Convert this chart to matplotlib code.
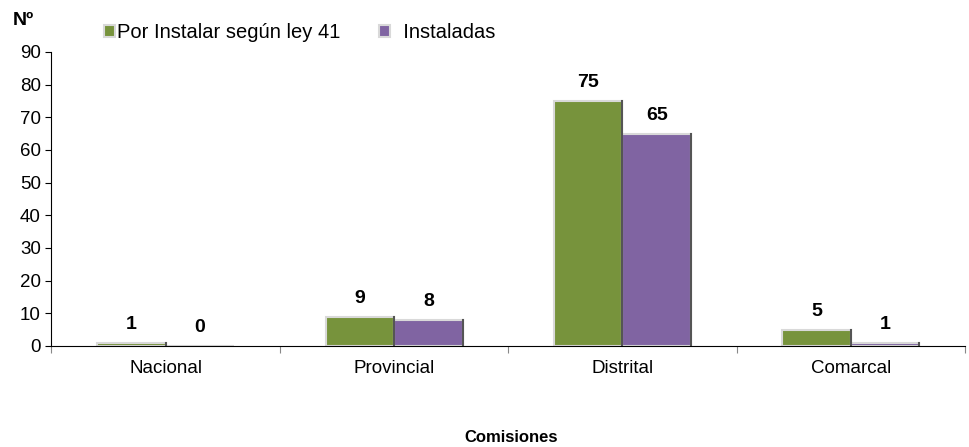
import numpy as np
import matplotlib.pyplot as plt
from matplotlib.ticker import FixedLocator, NullFormatter

plt.rcParams['font.family'] = ['Liberation Sans', 'DejaVu Sans']

categories = ['Nacional', 'Provincial', 'Distrital', 'Comarcal']
por_instalar = [1, 9, 75, 5]
instaladas = [0, 8, 65, 1]
series_names = ['Por Instalar según ley 41', '  Instaladas']

GREEN = '#77933C'
PURPLE = '#8064A2'

fig = plt.figure(figsize=(9.7, 4.47), dpi=100)
ax = fig.add_axes([0.053, 0.226, 0.942, 0.658])

x = np.arange(len(categories))
width = 0.3

b1 = ax.bar(x - width / 2, por_instalar, width, color=GREEN,
            edgecolor='#d9d9d9', linewidth=1.5, label=series_names[0])
b2 = ax.bar(x + width / 2, instaladas, width, color=PURPLE,
            edgecolor='#d9d9d9', linewidth=1.5, label=series_names[1])

# darker right edge to fake the bevel shadow
for bars in (b1, b2):
    for rect in bars:
        h = rect.get_height()
        if h > 0:
            ax.plot([rect.get_x() + rect.get_width()] * 2, [0, h],
                    color='#555555', lw=1.5, zorder=3)

for bars, vals in ((b1, por_instalar), (b2, instaladas)):
    for rect, v in zip(bars, vals):
        ax.text(rect.get_x() + rect.get_width() / 2, v + 3, str(v),
                ha='center', va='bottom', fontsize=14, fontweight='bold')

ax.set_xlim(-0.5, len(categories) - 0.5)
ax.set_ylim(0, 90)
ax.set_yticks(np.arange(0, 91, 10))
ax.tick_params(axis='y', labelsize=13.5, length=4, direction='out')

ax.xaxis.set_major_locator(FixedLocator(np.arange(-0.5, len(categories), 1)))
ax.xaxis.set_major_formatter(NullFormatter())
ax.xaxis.set_minor_locator(FixedLocator(x))
ax.set_xticklabels(categories, minor=True)
ax.tick_params(axis='x', which='major', length=5, color='#888888')
ax.tick_params(axis='x', which='minor', length=0, labelsize=13.5, pad=10)

for s in ('top', 'right'):
    ax.spines[s].set_visible(False)

fig.text(0.527, 0.022, 'Comisiones', fontsize=12, fontweight='bold',
         ha='center', va='center')
fig.text(0.013, 0.945, 'Nº', fontsize=14, fontweight='bold')

ax.legend(loc='upper left', bbox_to_anchor=(0.038, 1.16), ncol=2, frameon=False,
          fontsize=14.5, handlelength=0.55, handleheight=0.55, handletextpad=0.1,
          columnspacing=1.9)

fig.savefig('out.png', dpi=100)
